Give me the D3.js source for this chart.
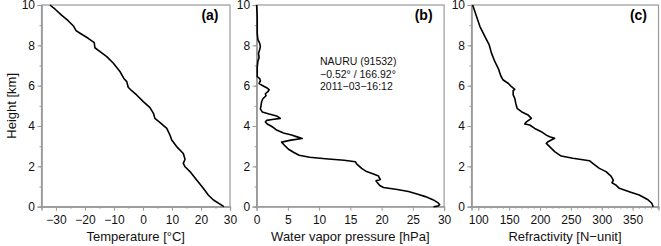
<!DOCTYPE html>
<html>
<head>
<meta charset="utf-8">
<script src="https://cdn.jsdelivr.net/npm/d3@7"></script>
<style>
  body { margin: 0; background: #fff; }
  svg { font-family: "Liberation Sans", Arial, sans-serif; }
</style>
</head>
<body>
<svg id="chart" width="661" height="246"></svg>
<script>
// height levels [km] and values
var tempH = [10, 9.79, 9.5, 9.22, 8.96, 8.73, 8.6, 8.35, 8.13, 7.88, 7.69, 7.44, 7.11, 6.69, 6.36, 6.2, 5.92, 5.75, 5.54, 5.21, 4.91, 4.63, 4.38, 4.17, 3.88, 3.55, 3.31, 2.98, 2.64, 2.35, 2.15, 1.98, 1.74, 1.32, 0.91, 0.58, 0.33, 0];
var tempV = [-32.1, -30.3, -28.1, -25.8, -24.0, -23.1, -21.7, -18.9, -16.8, -16.6, -14.8, -12.5, -10.2, -7.9, -6.6, -5.6, -5.1, -3.9, -2.2, 0.1, 2.4, 3.6, 4.1, 5.9, 8.2, 9.3, 9.9, 11.6, 13.9, 14.5, 13.9, 14.5, 16.2, 18.5, 20.8, 22.5, 24.3, 27.9];

var wvH = [10, 9.4, 8.6, 8.3, 8.1, 7.95, 7.8, 7.6, 7.4, 7.2, 6.9, 6.45, 6.35, 6.25, 6.1, 6.0, 5.9, 5.8, 5.7, 5.6, 5.5, 5.35, 5.2, 5.0, 4.85, 4.7, 4.6, 4.5, 4.38, 4.32, 4.28, 4.2, 4.1, 4.0, 3.9, 3.8, 3.65, 3.55, 3.45, 3.38, 3.3, 3.2, 3.1, 3.0, 2.85, 2.7, 2.55, 2.45, 2.38, 2.3, 2.23, 2.12, 1.9, 1.74, 1.62, 1.52, 1.45, 1.35, 1.28, 1.2, 1.05, 0.95, 0.85, 0.75, 0.62, 0.5, 0.35, 0.2, 0.1, 0.03, 0];
var wvV = [0.0, 0.1, 0.1, 0.2, 0.5, 0.6, 0.5, 0.3, 0.4, 0.2, 0.1, 0.1, 0.5, 0.6, 0.4, 1.0, 1.6, 2.0, 1.8, 1.4, 1.5, 1.0, 0.8, 0.7, 0.6, 0.9, 2.0, 3.2, 3.8, 2.5, 1.6, 1.4, 1.7, 2.3, 2.8, 3.2, 4.3, 5.6, 6.6, 7.3, 5.5, 4.0, 4.3, 4.6, 5.1, 5.9, 6.8, 8.5, 11.0, 14.0, 15.8, 16.0, 16.8, 17.6, 18.7, 19.5, 19.6, 19.8, 19.1, 19.3, 19.7, 20.3, 22.5, 24.3, 25.8, 27.0, 28.2, 29.0, 29.3, 29.0, 28.3];

var refH = [10, 9.42, 8.93, 8.43, 8.02, 7.6, 7.19, 6.86, 6.48, 6.28, 6.12, 5.95, 5.82, 5.75, 5.54, 5.37, 5.12, 4.88, 4.71, 4.55, 4.38, 4.21, 4.1, 4.05, 3.88, 3.72, 3.55, 3.47, 3.39, 3.22, 3.14, 2.98, 2.73, 2.51, 2.4, 2.28, 2.15, 1.9, 1.74, 1.52, 1.32, 1.19, 1.07, 0.91, 0.74, 0.58, 0.36, 0.17, 0];
var refV = [90.9, 97.3, 102.7, 110.8, 117.7, 121.5, 126.9, 132.3, 136.6, 140.3, 148.4, 153.8, 159.1, 156.5, 156.5, 159.1, 160.8, 162.9, 169.9, 180.6, 186.0, 178.0, 175.3, 183.3, 191.4, 202.2, 210.2, 215.6, 223.7, 212.9, 210.2, 215.6, 223.7, 234.4, 253.2, 280.1, 285.5, 296.2, 307.0, 315.0, 318.8, 316.7, 323.1, 328.5, 344.6, 360.8, 374.2, 381.2, 383.3];

var heightTicks = [0, 2, 4, 6, 8, 10];
var tempTicks = [-30, -20, -10, 0, 10, 20, 30];
var wvTicks = [0, 5, 10, 15, 20, 25, 30];
var refTicks = [100, 150, 200, 250, 300, 350];

var stationText = ["NAURU (91532)", "\u22120.52\u00b0 / 166.92\u00b0", "2011\u221203\u221216:12"];

var svg = d3.select("#chart");
var plotTop = 5, plotBottom = 206.7;
var frameColor = "#9a9a9a";

var y = d3.scaleLinear().domain([0, 10]).range([plotBottom, plotTop]);

var panels = [
  { h: tempH, v: tempV, dom: [-35, 30], rng: [41.5, 230], ticks: tempTicks, minor: d3.range(-35, 31, 5), title: "Temperature [\u00b0C]", tag: "(a)" },
  { h: wvH, v: wvV, dom: [0, 30], rng: [256.6, 444.1], ticks: wvTicks, minor: [], title: "Water vapor pressure [hPa]", tag: "(b)" },
  { h: refH, v: refV, dom: [89, 392], rng: [471.5, 658.5], ticks: refTicks, minor: d3.range(90, 391, 10), title: "Refractivity [N\u2212unit]", tag: "(c)" }
];

var fmt = function(d) { return String(d).replace("-", "\u2212"); };

panels.forEach(function(p, i) {
  var x = d3.scaleLinear().domain(p.dom).range(p.rng);
  var g = svg.append("g");

  // 外枠
  g.append("rect")
      .attr("x", p.rng[0]).attr("y", plotTop)
      .attr("width", p.rng[1] - p.rng[0]).attr("height", plotBottom - plotTop)
      .attr("fill", "none").attr("stroke", frameColor).attr("stroke-width", 1.2);

  // y軸
  g.append("g").attr("transform", "translate(" + p.rng[0] + ",0)")
      .call(d3.axisLeft(y).tickValues(d3.range(0, 11, 1)).tickSize(2).tickFormat(""));
  g.append("g").attr("transform", "translate(" + p.rng[0] + ",0)")
      .call(d3.axisLeft(y).tickValues(heightTicks).tickSize(4).tickPadding(2.5).tickFormat(fmt));

  // x軸
  if (p.minor.length) {
    g.append("g").attr("transform", "translate(0," + plotBottom + ")")
        .call(d3.axisBottom(x).tickValues(p.minor).tickSize(2).tickFormat(""));
  }
  g.append("g").attr("transform", "translate(0," + plotBottom + ")")
      .call(d3.axisBottom(x).tickValues(p.ticks).tickSize(4).tickPadding(5).tickFormat(fmt));

  g.selectAll(".domain").attr("stroke", frameColor).attr("stroke-width", 1.2);
  g.selectAll(".tick line").attr("stroke", frameColor);
  g.selectAll(".tick text").attr("fill", "#111").style("font-size", "12px");

  // プロファイル
  var line = d3.line()
      .x(function(d) { return x(d[1]); })
      .y(function(d) { return y(d[0]); });
  g.append("path")
      .datum(d3.zip(p.h, p.v))
      .attr("d", line)
      .attr("fill", "none")
      .attr("stroke", "#000")
      .attr("stroke-width", 1.6)
      .attr("stroke-linejoin", "round");

  g.append("text")
      .attr("x", (p.rng[0] + p.rng[1]) / 2).attr("y", 241)
      .attr("text-anchor", "middle").style("font-size", "13px").attr("fill", "#111")
      .text(p.title);

  g.append("text")
      .attr("x", p.rng[1] - 11.5).attr("y", 20)
      .attr("text-anchor", "end").style("font-size", "14px").style("font-weight", "bold")
      .text(p.tag);

  if (i === 1) {
    g.selectAll(".station").data(stationText).enter().append("text")
        .attr("x", 320).attr("y", function(d, k) { return 65 + k * 12.6; })
        .style("font-size", "10.5px").attr("fill", "#111")
        .text(function(d) { return d; });
  }
});

svg.append("text")
    .attr("transform", "translate(16," + (plotTop + plotBottom) / 2 + ") rotate(-90)")
    .attr("text-anchor", "middle").style("font-size", "13px").attr("fill", "#111")
    .text("Height [km]");
</script>
</body>
</html>
